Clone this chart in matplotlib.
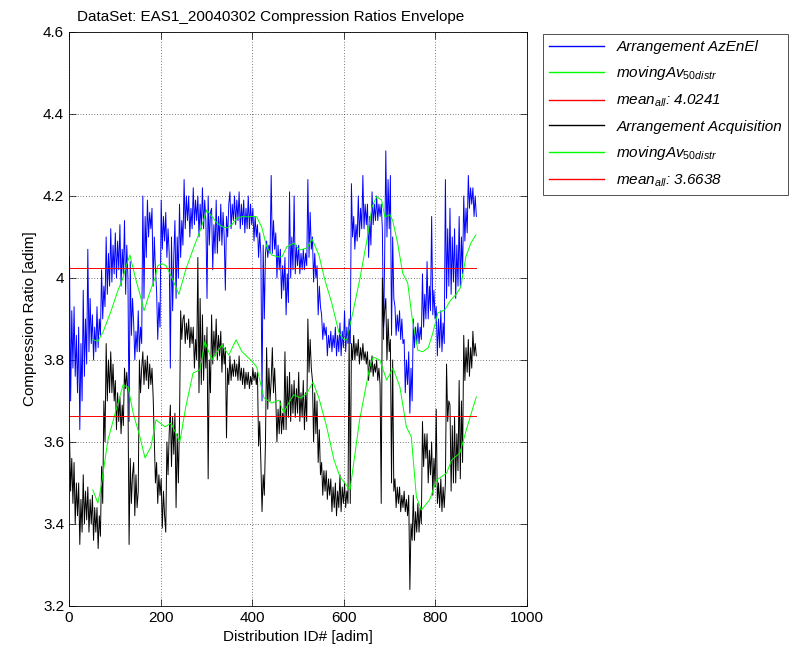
import numpy as np
import matplotlib
matplotlib.use('Agg')
import matplotlib.pyplot as plt
from matplotlib.ticker import FormatStrFormatter

plt.rcParams['font.family'] = ['Liberation Sans', 'DejaVu Sans']
plt.rcParams['mathtext.fontset'] = 'custom'
plt.rcParams['mathtext.rm'] = 'Liberation Sans'
plt.rcParams['mathtext.it'] = 'Liberation Sans:italic'

# compression ratio, Arrangement AzEnEl (read every ~2.5 distributions)
cr_azenel = [
    4.05, 3.70, 3.92, 3.78, 3.93, 3.76, 3.86, 3.72, 3.88, 3.63, 3.84, 3.70,
    3.97, 3.76, 3.90, 3.79, 4.07, 3.82, 3.95, 3.84, 3.91, 3.80, 3.88, 3.82,
    3.93, 3.83, 3.90, 3.86, 4.02, 3.90, 3.98, 3.93, 4.10, 3.96, 4.06, 3.98,
    4.12, 3.99, 4.08, 4.01, 4.11, 4.00, 4.09, 4.02, 4.13, 3.98, 4.07, 4.01,
    4.14, 3.96, 4.08, 4.00, 3.65, 4.04, 3.86, 3.95, 3.89, 3.80, 3.87, 3.82,
    3.92, 3.82, 3.88, 3.84, 4.20, 3.95, 4.15, 4.05, 4.19, 4.10, 4.16, 4.12,
    4.17, 3.98, 4.10, 4.02, 3.97, 3.85, 3.94, 3.88, 4.19, 4.07, 4.15, 4.09,
    4.16, 4.05, 4.12, 4.06, 3.78, 4.10, 3.92, 4.05, 4.14, 3.95, 4.10, 4.00,
    4.18, 4.05, 4.14, 4.08, 4.24, 4.12, 4.20, 4.14, 4.20, 4.10, 4.17, 4.12,
    4.22, 4.13, 4.19, 4.14, 4.20, 4.10, 4.18, 4.12, 4.22, 4.12, 4.19, 4.14,
    3.95, 4.20, 4.08, 4.16, 4.17, 4.02, 4.13, 4.06, 4.19, 4.06, 4.15, 4.09,
    4.18, 4.08, 4.16, 4.10, 3.97, 4.15, 4.10, 4.18, 4.21, 4.12, 4.18, 4.14,
    4.20, 4.13, 4.19, 4.14, 4.21, 4.12, 4.18, 4.13, 4.19, 4.11, 4.17, 4.12,
    4.20, 4.12, 4.18, 4.13, 4.17, 4.09, 4.15, 4.10, 4.13, 4.05, 4.11, 4.06,
    3.70, 4.08, 3.90, 4.06, 4.09, 4.05, 4.08, 4.06, 4.25, 4.06, 4.14, 4.07,
    4.11, 4.00, 4.08, 4.02, 4.07, 3.95, 4.03, 3.97, 4.05, 3.91, 4.01, 3.94,
    4.21, 4.00, 4.10, 4.02, 4.20, 4.01, 4.08, 4.03, 4.08, 4.01, 4.06, 4.02,
    4.07, 4.02, 4.06, 4.03, 4.24, 4.05, 4.16, 4.07, 4.10, 3.99, 4.06, 4.00,
    4.03, 3.91, 3.98, 3.93, 3.91, 3.85, 3.89, 3.86, 3.88, 3.81, 3.86, 3.83,
    3.87, 3.82, 3.86, 3.83, 3.88, 3.81, 3.86, 3.82, 3.89, 3.81, 3.87, 3.83,
    3.92, 3.82, 3.88, 3.84, 3.90, 3.84, 4.23, 4.10, 4.15, 4.07, 4.13, 4.09,
    4.20, 4.10, 4.17, 4.12, 4.25, 4.12, 4.18, 4.13, 4.18, 4.05, 4.15, 4.08,
    4.21, 4.13, 4.18, 4.14, 4.20, 4.14, 4.18, 4.15, 4.18, 4.12, 3.85, 4.05,
    4.31, 4.10, 4.24, 4.12, 4.25, 3.86, 4.10, 3.95, 3.93, 3.86, 3.91, 3.87,
    3.92, 3.85, 3.90, 3.84, 3.85, 3.72, 3.80, 3.74, 3.82, 3.67, 3.78, 3.70,
    3.90, 3.83, 3.88, 3.84, 3.89, 3.84, 3.88, 3.85, 4.01, 3.88, 3.96, 3.90,
    4.04, 3.90, 3.98, 3.92, 4.15, 3.91, 3.97, 3.90, 3.93, 3.81, 3.90, 3.83,
    3.92, 3.82, 3.89, 3.84, 4.24, 3.95, 4.12, 3.98, 4.17, 3.96, 4.10, 3.99,
    4.12, 3.95, 4.08, 3.98, 4.15, 3.98, 4.10, 4.01, 4.20, 4.09, 4.17, 4.11,
    4.25, 4.17, 4.22, 4.18, 4.22, 4.15, 4.20, 4.15]

# compression ratio, Arrangement Acquisition
cr_acq = [
    3.62, 3.48, 3.56, 3.45, 3.55, 3.40, 3.50, 3.42, 3.50, 3.35, 3.46, 3.38,
    3.52, 3.40, 3.48, 3.41, 3.49, 3.38, 3.46, 3.40, 3.47, 3.36, 3.44, 3.38,
    3.44, 3.34, 3.42, 3.37, 3.54, 3.45, 3.70, 3.60, 3.84, 3.70, 3.80, 3.72,
    3.82, 3.72, 3.79, 3.70, 3.75, 3.63, 3.72, 3.65, 3.71, 3.62, 3.69, 3.64,
    3.78, 3.73, 3.77, 3.72, 3.35, 3.56, 3.45, 3.52, 3.55, 3.42, 3.52, 3.44,
    3.48, 3.80, 3.72, 3.78, 3.82, 3.74, 3.80, 3.75, 3.81, 3.73, 3.79, 3.74,
    3.78, 3.71, 3.60, 3.50, 3.55, 3.45, 3.52, 3.47, 3.51, 3.39, 3.48, 3.42,
    3.38, 3.60, 3.52, 3.62, 3.69, 3.54, 3.66, 3.57, 3.67, 3.44, 3.62, 3.50,
    3.65, 3.92, 3.85, 3.90, 3.91, 3.84, 3.89, 3.85, 3.90, 3.83, 3.88, 3.84,
    3.88, 3.78, 3.85, 3.80, 4.05, 3.72, 3.95, 3.74, 3.91, 3.75, 3.86, 3.78,
    3.88, 3.51, 3.80, 3.72, 3.91, 3.79, 3.87, 3.81, 3.90, 3.80, 3.86, 3.81,
    3.87, 3.77, 3.84, 3.79, 3.83, 3.61, 3.78, 3.74, 3.81, 3.75, 3.79, 3.76,
    3.80, 3.76, 3.79, 3.75, 3.81, 3.75, 3.78, 3.74, 3.78, 3.73, 3.77, 3.74,
    3.77, 3.73, 3.76, 3.74, 3.78, 3.75, 3.77, 3.74, 3.77, 3.59, 3.65, 3.55,
    3.43, 3.52, 3.47, 3.60, 3.83, 3.68, 3.78, 3.70, 3.75, 3.83, 3.72, 3.78,
    3.71, 3.60, 3.68, 3.62, 3.70, 3.62, 3.67, 3.63, 3.82, 3.63, 3.76, 3.66,
    3.77, 3.65, 3.74, 3.67, 3.75, 3.66, 3.73, 3.67, 3.77, 3.65, 3.72, 3.66,
    3.75, 3.63, 3.72, 3.65, 3.90, 3.77, 3.85, 3.78, 3.75, 3.60, 3.72, 3.62,
    3.70, 3.55, 3.63, 3.52, 3.55, 3.47, 3.53, 3.48, 3.53, 3.46, 3.51, 3.47,
    3.51, 3.43, 3.49, 3.44, 3.50, 3.42, 3.48, 3.44, 3.52, 3.43, 3.49, 3.45,
    3.50, 3.44, 3.48, 3.45, 3.87, 3.45, 3.84, 3.80, 3.86, 3.80, 3.84, 3.81,
    3.85, 3.79, 3.83, 3.80, 3.84, 3.80, 3.82, 3.79, 3.82, 3.75, 3.80, 3.77,
    3.81, 3.76, 3.79, 3.77, 3.80, 3.75, 3.78, 3.74, 3.45, 4.00, 3.88, 3.92,
    3.95, 3.80, 3.90, 3.82, 3.85, 3.50, 3.80, 3.48, 3.51, 3.44, 3.49, 3.45,
    3.49, 3.43, 3.47, 3.44, 3.48, 3.43, 3.46, 3.42, 3.47, 3.24, 3.40, 3.36,
    3.47, 3.36, 3.43, 3.38, 3.45, 3.38, 3.44, 3.40, 3.65, 3.54, 3.62, 3.56,
    3.62, 3.50, 3.58, 3.52, 3.60, 3.47, 3.56, 3.49, 3.68, 3.45, 3.50, 3.44,
    3.51, 3.43, 3.49, 3.44, 3.50, 3.79, 3.65, 3.70, 3.69, 3.48, 3.64, 3.50,
    3.66, 3.50, 3.62, 3.53, 3.75, 3.51, 3.70, 3.55, 3.86, 3.75, 3.83, 3.77,
    3.85, 3.76, 3.83, 3.78, 3.87, 3.81, 3.84, 3.81]

# moving averages (50 distributions), read at these IDs
ma_az_id = [52, 63, 75, 92, 107, 118, 125, 133, 145, 155, 164, 175, 188, 194,
            203, 212, 225, 240, 255, 273, 288, 301, 312, 323, 335, 345, 356,
            367, 380, 389, 400, 410, 421, 432, 443, 455, 465, 476, 491, 504,
            520, 531, 546, 559, 574, 590, 600, 607, 620, 635, 651, 662, 672,
            683, 690, 701, 707, 718, 729, 740, 750, 762, 773, 785, 795, 806,
            821, 834, 846, 856, 867, 878, 889]
ma_az = [3.85, 3.845, 3.87, 3.92, 3.97, 4.00, 4.03, 4.056, 4.00, 3.96, 3.92,
         3.96, 4.00, 4.03, 4.035, 4.03, 4.00, 3.96, 4.02, 4.076, 4.12, 4.166,
         4.15, 4.134, 4.125, 4.122, 4.13, 4.146, 4.15, 4.149, 4.15, 4.149,
         4.124, 4.076, 4.056, 4.052, 4.051, 4.076, 4.085, 4.068, 4.073, 4.095,
         4.056, 3.995, 3.939, 3.866, 3.85, 3.849, 3.915, 3.995, 4.093, 4.173,
         4.198, 4.19, 4.149, 4.154, 4.141, 4.085, 4.012, 3.988, 3.90, 3.824,
         3.82, 3.83, 3.866, 3.915, 3.922, 3.946, 3.96, 3.978, 4.051, 4.085,
         4.105]

ma_acq_id = [52, 63, 70, 85, 107, 118, 129, 140, 155, 166, 179, 190, 200, 210,
             223, 242, 255, 271, 286, 297, 312, 334, 349, 365, 378, 397, 410,
             426, 443, 459, 469, 480, 491, 507, 520, 533, 546, 563, 579, 592,
             614, 635, 657, 665, 679, 694, 708, 723, 737, 748, 759, 770, 788,
             803, 825, 836, 854, 868, 883, 890]
ma_acq = [3.483, 3.451, 3.49, 3.605, 3.695, 3.739, 3.734, 3.671, 3.612, 3.561,
          3.588, 3.654, 3.645, 3.637, 3.646, 3.60, 3.685, 3.768, 3.776, 3.845,
          3.80, 3.837, 3.812, 3.849, 3.82, 3.80, 3.783, 3.707, 3.695, 3.702,
          3.671, 3.695, 3.715, 3.707, 3.719, 3.746, 3.707, 3.637, 3.556, 3.515,
          3.483, 3.654, 3.783, 3.807, 3.80, 3.751, 3.78, 3.734, 3.637, 3.612,
          3.466, 3.434, 3.459, 3.507, 3.524, 3.556, 3.573, 3.629, 3.685, 3.71]

mean_az = 4.0241
mean_acq = 3.6638
n_distr = 890

x_az = np.linspace(1, n_distr, len(cr_azenel))
x_acq = np.linspace(1, n_distr, len(cr_acq))

fig = plt.figure(figsize=(7.98, 6.52), dpi=100)
ax = fig.add_axes([0.0865, 0.0706, 0.5735, 0.8804])

lw = 0.7
ax.plot(x_az, cr_azenel, color=(0, 0, 1), lw=lw, label='Arrangement AzEnEl')
ax.plot(ma_az_id, ma_az, color=(0, 1, 0), lw=0.7, label=r'$\it{movingAv}_{\it{50distr}}$')
ax.plot([1, n_distr], [mean_az, mean_az], color=(1, 0, 0), lw=0.7,
        label=r'$\it{mean}_{\it{all}}$: 4.0241')
ax.plot(x_acq, cr_acq, color='k', lw=lw, label='Arrangement Acquisition')
ax.plot(ma_acq_id, ma_acq, color=(0, 1, 0), lw=0.7, label=r'$\it{movingAv}_{\it{50distr}}$')
ax.plot([1, n_distr], [mean_acq, mean_acq], color=(1, 0, 0), lw=0.7,
        label=r'$\it{mean}_{\it{all}}$: 3.6638')

ax.set_xlim(0, 1000)
ax.set_ylim(3.2, 4.6)
ax.set_xticks(np.arange(0, 1001, 200))
ax.set_yticks(np.arange(3.2, 4.61, 0.2))
ax.yaxis.set_major_formatter(FormatStrFormatter('%g'))
ax.tick_params(direction='in', top=True, right=True, length=5, width=0.5, labelsize=11)
ax.grid(True, color='k', linestyle=(0, (1, 3)), linewidth=0.5)
for s in ax.spines.values():
    s.set_linewidth(0.6)

ax.set_title('DataSet: EAS1_20040302 Compression Ratios Envelope', fontsize=11,
             x=0.44, pad=8)
ax.set_xlabel('Distribution ID# [adim]', fontsize=11)
ax.set_ylabel('Compression Ratio [adim]', fontsize=11)

leg = ax.legend(loc='upper left', bbox_to_anchor=(543 / 798, 1 - 34 / 652),
                bbox_transform=fig.transFigure, fancybox=False,
                handlelength=3.6, borderaxespad=0, borderpad=0.4,
                labelspacing=0.68, prop={'style': 'italic', 'size': 11})
leg.get_frame().set_edgecolor('k')
leg.get_frame().set_linewidth(0.6)
for h in leg.get_lines():
    h.set_linewidth(1.0)

fig.savefig('out.png', dpi=100)
